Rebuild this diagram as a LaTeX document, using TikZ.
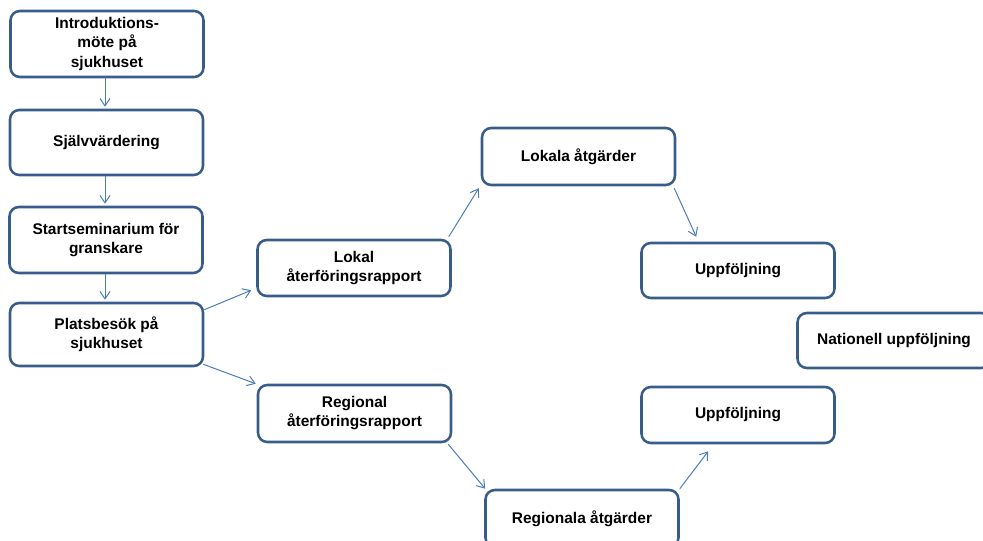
\documentclass[tikz,border=0pt]{standalone}
\usepackage{fontspec}
\setmainfont{Liberation Sans}
\usetikzlibrary{arrows.meta,calc}
\definecolor{boxblue}{HTML}{385D8A}
\definecolor{linkblue}{HTML}{4A7EBB}

\begin{document}
\begin{tikzpicture}[x=0.75pt,y=-0.75pt,
		box/.style={draw=boxblue,line width=1.9pt,fill=white,rounded corners=7pt,align=center,inner sep=0pt,minimum width=144.75pt,font=\bfseries\fontsize{11.6}{14.3}\selectfont},
		flow/.style={draw=linkblue,line width=0.75pt,-{Straight Barb[length=5.5pt,width=7.5pt]}}]
		\useasboundingbox (0,0) rectangle (983,541);
		% left column
		\node [box,minimum height=49.5pt] (intro) at (107,44) {Introduktions-\\möte på\\sjukhuset};
		\node [box,minimum height=48.75pt] (self) at (106.5,142.5) {Självvärdering};
		\node [box,minimum height=49.5pt] (start) at (106,240) {Startseminarium för\\granskare};
		\node [box,minimum height=47.25pt] (plats) at (106.5,334.5) {Platsbesök på\\sjukhuset};
		% reports
		\node [box,minimum height=42pt] (lokrap) at (354,268) {Lokal\\återföringsrapport};
		\node [box,minimum height=42.75pt] (regrap) at (354.5,413.5) {Regional\\återföringsrapport};
		% actions and follow-up
		\node [box,minimum height=42.75pt] (lokatg) at (578.5,156.5) {Lokala åtgärder};
		\node [box,minimum height=41.25pt] (upp1) at (738,270.5) {Uppföljning};
		\node [box,minimum height=41.25pt] (nat) at (894,340.5) {Nationell uppföljning};
		\node [box,minimum height=42pt] (upp2) at (738,415) {Uppföljning};
		\node [box,minimum height=42.75pt] (regatg) at (582,518.5) {Regionala åtgärder};
		\draw [flow] ($(intro.south)+(-2,-1)$) -- ($(self.north)+(-1.5,-2)$);
		\draw [flow] ($(self.south)+(-1.5,0)$) -- ($(start.north)+(-1,-2)$);
		\draw [flow] ($(start.south)+(-1,0)$) -- ($(plats.north)+(-1.5,-2)$);
		\draw [flow] ($(plats.north east)+(0,8)$) -- ($(lokrap.south west)+(-5,-7)$);
		\draw [flow] ($(plats.south east)+(-1,-3)$) -- ($(regrap.north west)+(-1,0)$);
		\draw [flow] ($(lokrap.north east)+(-3,-2)$) -- ($(lokatg.south west)+(-2,2)$);
		\draw [flow] ($(lokatg.south east)+(-2,2)$) -- ($(upp1.north west)+(56,-5)$);
		\draw [flow] ($(regrap.south east)+(-4,1)$) -- ($(regatg.north west)+(1,0)$);
		\draw [flow] ($(regatg.north east)+(0,0)$) -- ($(upp2.south west)+(68,7)$);
	\end{tikzpicture}
\end{document}
